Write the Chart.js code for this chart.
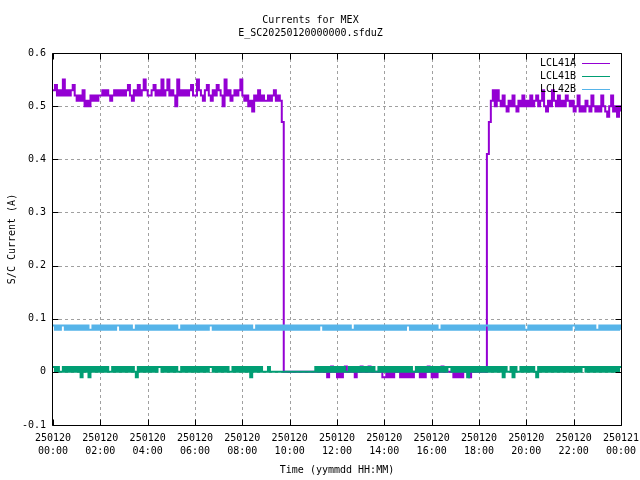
<!DOCTYPE html>
<html><head><meta charset="utf-8">
<script src="https://cdn.jsdelivr.net/npm/chart.js@4"></script>
<style>html,body{margin:0;padding:0;background:#fff;}canvas{display:block;}</style>
</head><body>
<canvas id="c" width="640" height="480"></canvas>
<script>
const chartTitle = ['Currents for MEX', 'E_SC20250120000000.sfduZ'];
const seriesNames = ['LCL41A', 'LCL41B', 'LCL42B'];
const seriesColors = ['#9400d3', '#009e73', '#56b4e9'];
const sampleStepMinutes = 5;
const xTickDates = ['250120','250120','250120','250120','250120','250120','250120','250120','250120','250120','250120','250120','250121'];
const xTickTimes = ['00:00','02:00','04:00','06:00','08:00','10:00','12:00','14:00','16:00','18:00','20:00','22:00','00:00'];
const yTickLabels = ['-0.1','0','0.1','0.2','0.3','0.4','0.5','0.6'];

// LCL41A, one row per hour (5-minute samples)
const lcl41a = [
0.53,0.54,0.52,0.53,0.52,0.55,0.52,0.53,0.52,0.53,0.54,0.52,
0.51,0.52,0.51,0.53,0.50,0.51,0.50,0.52,0.51,0.52,0.51,0.52,
0.52,0.53,0.52,0.53,0.52,0.51,0.52,0.53,0.52,0.53,0.52,0.53,
0.52,0.53,0.54,0.52,0.51,0.53,0.52,0.54,0.52,0.53,0.55,0.53,
0.52,0.52,0.53,0.54,0.52,0.53,0.52,0.55,0.52,0.53,0.55,0.52,
0.53,0.52,0.50,0.55,0.52,0.53,0.52,0.53,0.52,0.53,0.54,0.52,
0.52,0.55,0.53,0.52,0.51,0.53,0.54,0.52,0.51,0.53,0.52,0.54,
0.53,0.52,0.50,0.55,0.52,0.53,0.51,0.52,0.53,0.52,0.53,0.55,
0.52,0.51,0.52,0.50,0.51,0.49,0.52,0.51,0.53,0.51,0.52,0.51,
0.51,0.52,0.51,0.52,0.53,0.51,0.52,0.51,0.47,0,0,0,
0,0,0,0,0,0,0,0,0,0,0,0,
0,0,0,0,0,0,0,-0.01,0,0.01,0,0,
-0.01,0,-0.01,0,0.01,0,0,0,0,-0.01,0,0,
0.01,0,0,0,0.01,0,0,0,0,0,0,-0.01,
-0.01,0,-0.01,0,-0.01,0,0,0,-0.01,0,-0.01,0,
-0.01,0,-0.01,0,0,0,-0.01,0,-0.01,0,0.01,0,
-0.01,0,-0.01,0,0,0.01,0,0,0,0,0,-0.01,
0,-0.01,0,-0.01,0,0,0,-0.01,0,0,0,0,
0,0,0,0,0.41,0.47,0.51,0.53,0.50,0.53,0.51,0.50,
0.52,0.50,0.49,0.51,0.50,0.52,0.50,0.49,0.51,0.50,0.52,0.50,
0.51,0.50,0.52,0.50,0.51,0.52,0.50,0.51,0.53,0.50,0.49,0.51,
0.50,0.53,0.51,0.50,0.52,0.50,0.51,0.50,0.52,0.51,0.50,0.51,
0.49,0.50,0.52,0.49,0.50,0.49,0.51,0.50,0.49,0.52,0.50,0.49,
0.50,0.49,0.52,0.50,0.49,0.48,0.50,0.52,0.49,0.50,0.48,0.50,
0.49
];

// LCL41B
const lcl41b = [
0.009,0,0.009,0,0,0.009,0,0.009,0,0.009,0,0.009,
0,0.009,-0.01,0.009,0,0.009,-0.01,0.009,0,0.009,0,0.009,
0,0.009,0,0.009,0,0,0.009,0,0.009,0,0.009,0,
0.009,0,0.009,0,0.009,0,-0.01,0.009,0,0.009,0,0.009,
0,0.009,0,0.009,0,0.009,0.009,0,0.009,0,0.009,0,
0.009,0,0.009,0,0,0.009,0,0.009,0,0.009,0,0.009,
0,0.009,0,0.009,0,0.009,0,0.009,0.009,0,0.009,0,
0.009,0,0.009,0,0.009,0,0,0.009,0,0.009,0,0.009,
0,0.009,0,0.009,-0.01,0.009,0,0.009,0,0.009,0,0,
0,0.009,0,0,0,0,0,0,0,0,0,0,
0,0,0,0,0,0,0,0,0,0,0,0,
0,0.009,0,0.009,0,0.009,0,0.009,0,0.009,0,0.009,
0,0.009,0,0.009,0,0,0.009,0,0.009,0,0.009,0,
0.009,0,0.009,0,0.009,0,0.009,0,0,0.009,0,0.009,
0,0.009,0,0.009,0,0.009,0,0.009,0,0.009,0,0.009,
0,0.009,0,0,0.009,0,0.009,0,0.009,0,0.009,0,
0.009,0,0.009,0,0.009,0,0.009,0,0.009,0.009,0,0.009,
0,0.009,0,0.009,0,0.009,-0.01,0.009,0,0.009,0,0.009,
0,0.009,0,0.009,0,0.009,0,0.009,0,0.009,0,0.009,
-0.01,0.009,0,0,0.009,-0.01,0.009,0,0,0.009,0,0.009,
0,0.009,0,0.009,0,-0.01,0.009,0,0.009,0,0.009,0,
0.009,0,0.009,0,0.009,0,0.009,0,0.009,0,0.009,0,
0.009,0,0.009,0,0.009,0.009,0,0.009,0,0.009,0,0.009,
0,0.009,0,0.009,0,0.009,0,0.009,0,0.009,0,0.009,
0.009
];

// LCL42B
const lcl42b = [
0.087,0.079,0.087,0.079,0.087,0.087,0.079,0.087,0.079,0.087,0.079,0.087,
0.079,0.087,0.079,0.087,0.079,0.087,0.079,0.079,0.087,0.079,0.087,0.079,
0.087,0.079,0.087,0.079,0.087,0.079,0.087,0.079,0.087,0.087,0.079,0.087,
0.079,0.087,0.079,0.087,0.079,0.079,0.087,0.079,0.087,0.079,0.087,0.079,
0.087,0.079,0.087,0.079,0.087,0.079,0.087,0.079,0.087,0.079,0.087,0.079,
0.087,0.079,0.087,0.079,0.079,0.087,0.079,0.087,0.079,0.087,0.079,0.087,
0.079,0.087,0.079,0.087,0.079,0.087,0.079,0.087,0.087,0.079,0.087,0.079,
0.087,0.079,0.087,0.079,0.087,0.079,0.087,0.079,0.087,0.079,0.087,0.079,
0.087,0.079,0.087,0.079,0.087,0.079,0.079,0.087,0.079,0.087,0.079,0.087,
0.079,0.087,0.079,0.087,0.079,0.087,0.079,0.087,0.079,0.087,0.079,0.087,
0.079,0.087,0.079,0.087,0.079,0.087,0.079,0.087,0.079,0.087,0.079,0.087,
0.079,0.087,0.079,0.087,0.087,0.079,0.087,0.079,0.087,0.079,0.087,0.079,
0.087,0.079,0.087,0.079,0.087,0.079,0.087,0.079,0.079,0.087,0.079,0.087,
0.079,0.087,0.079,0.087,0.079,0.087,0.079,0.087,0.079,0.087,0.079,0.087,
0.079,0.087,0.079,0.087,0.079,0.087,0.079,0.087,0.079,0.087,0.079,0.087,
0.087,0.079,0.087,0.079,0.087,0.079,0.087,0.079,0.087,0.079,0.087,0.079,
0.087,0.079,0.087,0.079,0.079,0.087,0.079,0.087,0.079,0.087,0.079,0.087,
0.079,0.087,0.079,0.087,0.079,0.087,0.079,0.087,0.079,0.087,0.079,0.087,
0.079,0.087,0.079,0.087,0.087,0.079,0.087,0.079,0.087,0.079,0.087,0.079,
0.087,0.079,0.087,0.079,0.087,0.079,0.087,0.079,0.087,0.079,0.087,0.079,
0.079,0.087,0.079,0.087,0.079,0.087,0.079,0.087,0.079,0.087,0.079,0.087,
0.079,0.087,0.079,0.087,0.079,0.087,0.079,0.087,0.079,0.087,0.079,0.087,
0.087,0.079,0.087,0.079,0.087,0.079,0.087,0.079,0.087,0.079,0.087,0.079,
0.079,0.087,0.079,0.087,0.079,0.087,0.079,0.087,0.079,0.087,0.079,0.087,
0.079
];

const FONT = 'DejaVu Sans Mono';
const toPoints = vals => vals.map((v, i) => ({ x: i * sampleStepMinutes / 60, y: v }));
const seriesValues = [lcl41a, lcl41b, lcl42b];

const framePlugin = {
  id: 'frame',
  beforeDatasetsDraw(chart) {
    const { ctx, chartArea: a, scales: { x, y } } = chart;
    ctx.save();
    ctx.strokeStyle = '#a0a0a0';
    ctx.lineWidth = 1;
    ctx.setLineDash([3, 3]);
    ctx.beginPath();
    y.ticks.forEach(t => {
      if (Math.abs(t.value - y.min) < 1e-9 || Math.abs(t.value - y.max) < 1e-9) return;
      const py = Math.round(y.getPixelForValue(t.value)) + 0.5;
      ctx.moveTo(a.left, py); ctx.lineTo(a.right, py);
    });
    x.ticks.forEach(t => {
      if (Math.abs(t.value - x.min) < 1e-9 || Math.abs(t.value - x.max) < 1e-9) return;
      const px = Math.round(x.getPixelForValue(t.value)) + 0.5;
      ctx.moveTo(px, a.top); ctx.lineTo(px, a.bottom);
    });
    ctx.stroke();
    ctx.restore();
  },
  afterDatasetsDraw(chart) {
    const { ctx, chartArea: a, scales: { x, y } } = chart;
    ctx.save();
    ctx.strokeStyle = '#000';
    ctx.lineWidth = 1;
    ctx.setLineDash([]);
    const L = Math.round(a.left) - 0.5, R = Math.round(a.right) + 0.5;
    const T = Math.round(a.top) + 0.5, B = Math.round(a.bottom) + 0.5;
    ctx.beginPath();
    ctx.moveTo(L, T); ctx.lineTo(R, T); ctx.lineTo(R, B); ctx.lineTo(L, B); ctx.closePath();
    const tl = 6;
    y.ticks.forEach(t => {
      const py = Math.round(y.getPixelForValue(t.value)) + 0.5;
      ctx.moveTo(L, py); ctx.lineTo(L + tl, py);
      ctx.moveTo(R, py); ctx.lineTo(R - tl, py);
    });
    x.ticks.forEach(t => {
      const px = Math.round(x.getPixelForValue(t.value)) + 0.5;
      ctx.moveTo(px, B); ctx.lineTo(px, B - tl);
      ctx.moveTo(px, T); ctx.lineTo(px, T + tl);
    });
    ctx.stroke();
    // key
    ctx.font = '10px ' + FONT;
    ctx.textAlign = 'right';
    ctx.textBaseline = 'middle';
    chart.data.datasets.forEach((ds, i) => {
      const ry = 63.5 + i * 13;
      ctx.fillStyle = '#000';
      ctx.fillText(ds.label, 576, ry);
      ctx.strokeStyle = ds.borderColor;
      ctx.beginPath();
      ctx.moveTo(582, ry); ctx.lineTo(610, ry);
      ctx.stroke();
    });
    ctx.restore();
  }
};

new Chart(document.getElementById('c'), {
  type: 'line',
  data: {
    datasets: seriesNames.map((name, i) => ({
      label: name,
      data: toPoints(seriesValues[i]),
      borderColor: seriesColors[i],
      backgroundColor: seriesColors[i],
      borderWidth: 2,
      stepped: true,
      pointRadius: 0,
      fill: false,
      order: 3 - i
    }))
  },
  options: {
    responsive: false,
    animation: false,
    devicePixelRatio: 1,
    layout: { padding: { left: 0, right: 19, top: 0, bottom: 0 } },
    plugins: {
      legend: { display: false },
      tooltip: { enabled: false },
      title: {
        display: true,
        text: chartTitle,
        color: '#000',
        font: { family: FONT, size: 10, weight: 'normal', lineHeight: 1.3 },
        padding: { top: 14, bottom: 13 }
      }
    },
    scales: {
      x: {
        type: 'linear', min: 0, max: 24,
        grid: { display: false, drawTicks: false, tickLength: 0 },
        border: { display: false },
        ticks: {
          stepSize: 2, autoSkip: false, maxRotation: 0, minRotation: 0, padding: 7,
          color: '#000', font: { family: FONT, size: 10, lineHeight: 1.3 },
          callback: v => { const i = Math.round(v / 2); return [xTickDates[i], xTickTimes[i]]; }
        },
        title: {
          display: true, text: 'Time (yymmdd HH:MM)', color: '#000',
          font: { family: FONT, size: 10, lineHeight: 1.2 },
          padding: { top: 0, bottom: 4 }
        },
        afterFit: s => { s.height = 55; s.paddingLeft = 0; s.paddingRight = 0; }
      },
      y: {
        type: 'linear', min: -0.1, max: 0.6,
        grid: { display: false, drawTicks: false, tickLength: 0 },
        border: { display: false },
        ticks: {
          stepSize: 0.1, autoSkip: false, padding: 7,
          color: '#000', font: { family: FONT, size: 10 },
          callback: v => yTickLabels[Math.round((v + 0.1) * 10)]
        },
        title: {
          display: true, text: 'S/C Current (A)', color: '#000',
          font: { family: FONT, size: 10, lineHeight: 1.2 },
          padding: { top: 6, bottom: 0 }
        },
        afterFit: s => { s.width = 53; s.paddingTop = 0; s.paddingBottom = 0; }
      }
    }
  },
  plugins: [framePlugin]
});
</script>
</body></html>
